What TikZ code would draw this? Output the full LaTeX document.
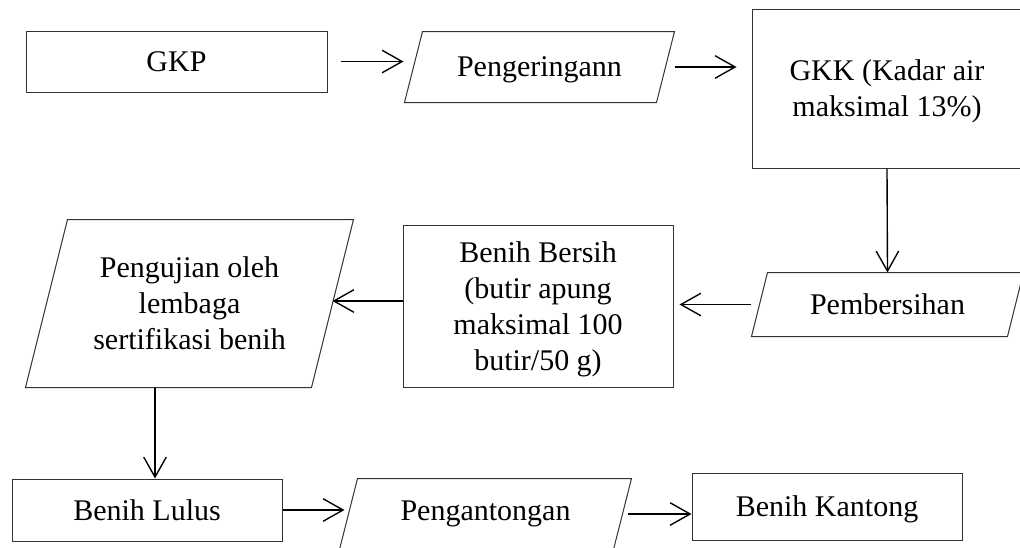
\documentclass[tikz,border=0pt]{standalone}
\usepackage{fontspec}
\setmainfont{Liberation Serif}
\usetikzlibrary{positioning}
\usetikzlibrary{arrows.meta}
\usetikzlibrary{calc}
\tikzset{
    every node/.append style={font=\fontsize{12}{14.4}\selectfont, align=center, inner sep=0pt},
    box/.style={draw=black!80, line width=0.4pt},
    outline/.style={draw=black!80, line width=0.4pt},
    flow/.style={-{Straight Barb[length=8pt,width=9pt]}, line width=0.55pt},
    x=0.4pt, y=-0.4pt
}

\begin{document}
\begin{tikzpicture}
\useasboundingbox (0,0) rectangle (1020,547);
% top row
\node[box, minimum width=301*0.4pt, minimum height=61*0.4pt] (gkp) at (176.5,61.5) {GKP};
\node[minimum width=269*0.4pt, minimum height=70*0.4pt, text depth=-1.5pt] (dry) at (539.5,67) {Pengeringann};
\node[box, minimum width=270*0.4pt, minimum height=159*0.4pt, text depth=-2pt] (gkk) at (887,88.5) {GKK (Kadar air\\maksimal 13\%)};
% middle row
\node[minimum width=271*0.4pt, minimum height=63*0.4pt, text depth=-9pt] (clean) at (887.5,304.5) {Pembersihan};
\node[box, minimum width=270*0.4pt, minimum height=162*0.4pt, text depth=-2.2pt] (seed) at (538,306) {Benih Bersih\\(butir apung\\maksimal 100\\butir/50 g)};
\node[minimum width=327*0.4pt, minimum height=167*0.4pt] (test) at (189.5,303.5) {Pengujian oleh\\lembaga\\sertifikasi benih};
% bottom row
\node[box, minimum width=270*0.4pt, minimum height=62*0.4pt] (pass) at (147,510) {Benih Lulus};
\node[minimum width=291*0.4pt, minimum height=70*0.4pt] (pack) at (485.5,514) {Pengantongan};
\node[box, minimum width=270*0.4pt, minimum height=67*0.4pt, text depth=-1.5pt] (bag) at (827,506.5) {Benih Kantong};

% slanted boxes
\foreach \n/\s in {dry/18, clean/16, test/42, pack/18}
    \draw[outline] (\n.south west) -- ($(\n.north west)+(\s,0)$) -- (\n.north east) -- ($(\n.south east)+(-\s,0)$) -- cycle;

\draw[flow, shorten <=5.2pt, shorten >=0.4pt] (gkp.east) -- (gkp.east -| dry.west);
\draw[flow, shorten >=6pt] (dry.east) -- (gkk.west |- dry.east);
\draw[flow] (gkk.south) -- (clean.north);
\draw[flow, shorten <=0.4pt, shorten >=2.4pt] (clean.west) -- (seed.east |- clean.west);
\draw[flow, shorten >=-8.4pt] ([yshift=2pt]seed.west) -- ([yshift=2pt]seed.west -| test.east);
\draw[flow] ($(test.south -| pass.north)+(8,0)$) -- ($(pass.north)+(8,0)$);
\draw[flow, shorten >=-2pt] (pass.east) -- (pass.east -| pack.west);
\draw[flow, shorten <=-1.6pt] (pack.east) -- (bag.west |- pack.east);
\end{tikzpicture}
\end{document}
